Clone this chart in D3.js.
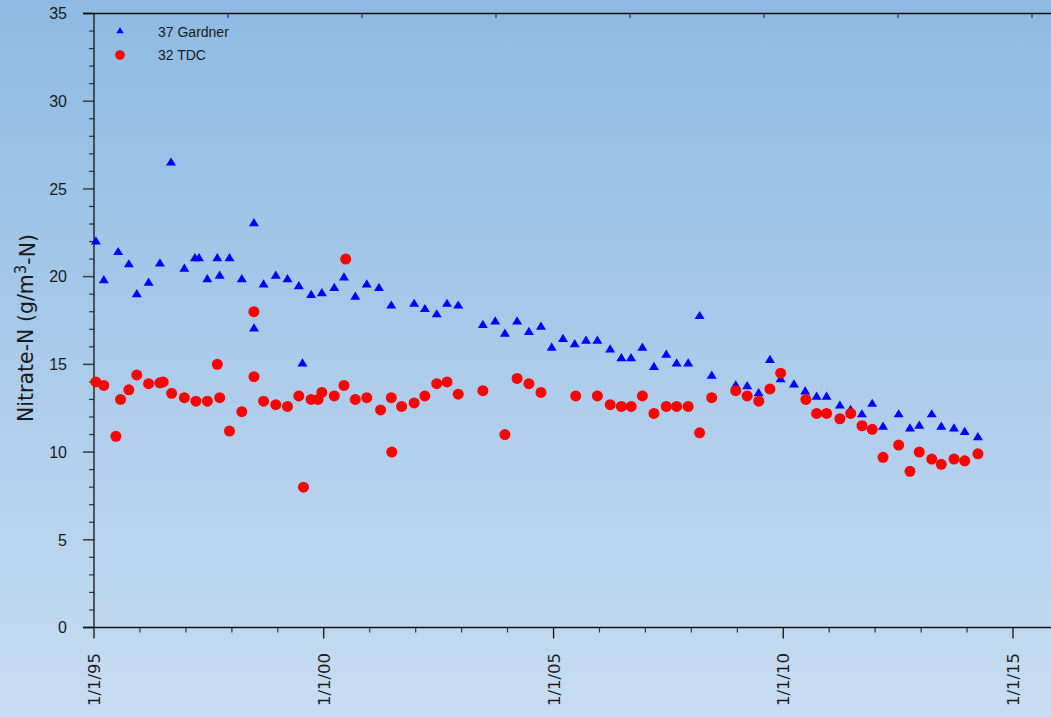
<!DOCTYPE html>
<html>
<head>
<meta charset="utf-8">
<script src="https://cdn.jsdelivr.net/npm/d3@7"></script>
<style>
  html, body { margin: 0; padding: 0; background: #c5dbf0; }
  svg { display: block; }
</style>
</head>
<body>
<svg id="chart" width="1051" height="717"></svg>
<script>
// ---------------- DATA ----------------
const seriesNames = ["37 Gardner", "32 TDC"];

const gardnerDates = [
  "1995-01-16","1995-03-20","1995-07-12","1995-10-05","1995-12-07","1996-03-10","1996-06-08","1996-09-04",
  "1996-12-19","1997-03-13","1997-04-15","1997-06-20","1997-09-07","1997-09-26","1997-12-13","1998-03-21",
  "1998-06-25","1998-06-26","1998-09-10","1998-12-16","1999-03-19","1999-06-17","1999-07-16","1999-09-23",
  "1999-12-17","2000-03-25","2000-06-10","2000-09-08","2000-12-08","2001-03-15","2001-06-21","2001-12-20",
  "2002-03-15","2002-06-17","2002-09-07","2002-12-05","2003-06-19","2003-09-25","2003-12-11","2004-03-17",
  "2004-06-19","2004-09-23","2004-12-17","2005-03-17","2005-06-18","2005-09-16","2005-12-15","2006-03-27",
  "2006-06-24","2006-09-09","2006-12-08","2007-03-10","2007-06-16","2007-09-06","2007-12-07","2008-03-07",
  "2008-06-11","2008-12-19","2009-03-20","2009-06-19","2009-09-17","2009-12-11","2010-03-27","2010-06-24",
  "2010-09-23","2010-12-11","2011-03-27","2011-06-20","2011-09-18","2011-12-09","2012-03-04","2012-07-06",
  "2012-10-04","2012-12-17","2013-03-26","2013-06-10","2013-09-19","2013-12-13","2014-03-28"
];
const gardnerValues = [
  22.0, 19.8, 21.4, 20.7, 19.0, 19.65, 20.75, 26.5,
  20.45, 21.05, 21.05, 19.85, 21.05, 20.05, 21.05, 19.85,
  23.05, 17.05, 19.55, 20.05, 19.85, 19.45, 15.05, 18.95,
  19.05, 19.35, 19.95, 18.85, 19.55, 19.35, 18.35, 18.45,
  18.15, 17.85, 18.45, 18.35, 17.25, 17.45, 16.75, 17.45,
  16.85, 17.15, 15.95, 16.45, 16.15, 16.35, 16.35, 15.85,
  15.35, 15.35, 15.95, 14.85, 15.55, 15.05, 15.05, 17.75,
  14.35, 13.8, 13.75, 13.35, 15.25, 14.15, 13.85, 13.45,
  13.15, 13.15, 12.65, 12.4, 12.15, 12.75, 11.45, 12.15,
  11.35, 11.5, 12.15, 11.45, 11.35, 11.15, 10.85
];

const tdcDates = [
  "1995-01-16","1995-03-20","1995-06-24","1995-07-31","1995-10-05","1995-12-07","1996-03-10","1996-06-08",
  "1996-07-04","1996-09-09","1996-12-19","1997-03-21","1997-06-20","1997-09-07","1997-09-26","1997-12-13",
  "1998-03-21","1998-06-25","1998-06-26","1998-09-10","1998-12-16","1999-03-19","1999-06-17","1999-07-24",
  "1999-09-23","1999-11-17","1999-12-17","2000-03-25","2000-06-10","2000-06-24","2000-09-08","2000-12-08",
  "2001-03-28","2001-06-21","2001-06-25","2001-09-11","2001-12-20","2002-03-15","2002-06-17","2002-09-07",
  "2002-12-05","2003-06-19","2003-12-11","2004-03-17","2004-06-19","2004-09-23","2005-06-26","2005-12-15",
  "2006-03-27","2006-06-24","2006-09-10","2006-12-08","2007-03-10","2007-06-16","2007-09-06","2007-12-07",
  "2008-03-07","2008-06-11","2008-12-19","2009-03-20","2009-06-20","2009-09-17","2009-12-11","2010-06-30",
  "2010-09-23","2010-12-11","2011-03-27","2011-06-21","2011-09-19","2011-12-09","2012-03-04","2012-07-06",
  "2012-10-04","2012-12-17","2013-03-26","2013-06-10","2013-09-19","2013-12-13","2014-03-28"
];
const tdcValues = [
  14.0, 13.8, 10.9, 13.0, 13.55, 14.4, 13.9, 13.95,
  14.0, 13.35, 13.1, 12.9, 12.9, 15.0, 13.1, 11.2,
  12.3, 18.0, 14.3, 12.9, 12.7, 12.6, 13.2, 8.0,
  13.0, 13.0, 13.4, 13.2, 13.8, 21.0, 13.0, 13.1,
  12.4, 13.1, 10.0, 12.6, 12.8, 13.2, 13.9, 14.0,
  13.3, 13.5, 11.0, 14.2, 13.9, 13.4, 13.2, 13.2,
  12.7, 12.6, 12.6, 13.2, 12.2, 12.6, 12.6, 12.6,
  11.1, 13.1, 13.5, 13.2, 12.9, 13.6, 14.5, 13.0,
  12.2, 12.2, 11.9, 12.2, 11.5, 11.3, 9.7, 10.4,
  8.9, 10.0, 9.6, 9.3, 9.6, 9.5, 9.9
];

const yMajorTicks = [0, 5, 10, 15, 20, 25, 30, 35];
const xTickLabels = ["1/1/95", "1/1/00", "1/1/05", "1/1/10", "1/1/15"];
const xMajorTickDates = ["1995-01-01", "2000-01-01", "2005-01-01", "2010-01-01", "2015-01-01"];
const topTickIndex = [1, 2, 3, 4, 5, 6, 7];
const yTitle = "Nitrate-N (g/m";
const yTitleSup = "3";
const yTitleEnd = "-N)";

// ---------------- CHART ----------------
(function () {
const W = 1051, H = 717;
const parse = d3.timeParse("%Y-%m-%d");
const svg = d3.select("#chart");

// background gradient
const defs = svg.append("defs");
const grad = defs.append("linearGradient").attr("id", "bg").attr("x1", 0).attr("y1", 0).attr("x2", 0).attr("y2", 1);
grad.append("stop").attr("offset", "0%").attr("stop-color", "#8ebae3");
grad.append("stop").attr("offset", "100%").attr("stop-color", "#c7ddf1");
svg.append("rect").attr("width", W).attr("height", H).attr("fill", "url(#bg)");

const mLeft = 94, mTop = 13.5, mBottom = 627.5, axisLeftExt = 83;

const x = d3.scaleTime()
  .domain([parse("1995-01-01"), parse("2015-01-01")])
  .range([mLeft, 1013]);
const y = d3.scaleLinear().domain([0, 35]).range([mBottom, mTop]);
const xTop = d3.scaleLinear().domain([0, 7]).range([mLeft, 1032]);

const axisColor = "#111";
const tickColor = "#333";

// Y axis ticks (major + minor)
const gY = svg.append("g");
const yMinor = d3.range(0, 36).filter(v => v % 5 !== 0);
gY.selectAll("line.minor").data(yMinor).join("line")
  .attr("class", "minor")
  .attr("x1", mLeft - 5).attr("x2", mLeft)
  .attr("y1", d => y(d)).attr("y2", d => y(d))
  .attr("stroke", tickColor).attr("stroke-width", 1.2);
gY.selectAll("line.major").data(yMajorTicks).join("line")
  .attr("class", "major")
  .attr("x1", mLeft - 11).attr("x2", mLeft)
  .attr("y1", d => y(d)).attr("y2", d => y(d))
  .attr("stroke", "#444").attr("stroke-width", 1.6);
gY.selectAll("text").data(yMajorTicks).join("text")
  .attr("x", 67).attr("y", d => y(d)).attr("dy", "0.36em")
  .attr("text-anchor", "end")
  .attr("font-family", "Liberation Sans, Arial, sans-serif")
  .attr("font-size", 16).attr("fill", "#1a1a1a")
  .text(d => d);

// X axis ticks
const gX = svg.append("g");
const yearTicks = d3.timeYear.range(parse("1995-01-01"), parse("2017-01-01"))
  .filter(d => x(d) <= W);
gX.selectAll("line.minor").data(yearTicks.filter(d => d.getFullYear() % 5 !== 0)).join("line")
  .attr("class", "minor")
  .attr("x1", d => x(d)).attr("x2", d => x(d))
  .attr("y1", mBottom).attr("y2", mBottom + 5)
  .attr("stroke", tickColor).attr("stroke-width", 1.2);
gX.selectAll("line.major").data(xMajorTickDates.map(parse)).join("line")
  .attr("class", "major")
  .attr("x1", d => x(d)).attr("x2", d => x(d))
  .attr("y1", mBottom).attr("y2", mBottom + 11)
  .attr("stroke", axisColor).attr("stroke-width", 1.3);
gX.selectAll("text").data(xMajorTickDates).join("text")
  .attr("transform", d => `translate(${x(parse(d))},653) rotate(-90)`)
  .attr("dy", "0.36em")
  .attr("text-anchor", "end")
  .attr("font-family", "DejaVu Sans, Verdana, sans-serif")
  .attr("font-size", 16.5).attr("fill", "#1a1a1a")
  .text((d, i) => xTickLabels[i]);

// top axis
svg.append("line").attr("x1", axisLeftExt).attr("x2", W).attr("y1", mTop).attr("y2", mTop)
  .attr("stroke", axisColor).attr("stroke-width", 1.3);
svg.selectAll("line.toptick").data(topTickIndex).join("line")
  .attr("class", "toptick")
  .attr("x1", d => xTop(d)).attr("x2", d => xTop(d))
  .attr("y1", mTop).attr("y2", mTop + 4.5)
  .attr("stroke", tickColor).attr("stroke-width", 1.2);

// axis lines
svg.append("line").attr("x1", axisLeftExt).attr("x2", W).attr("y1", mBottom).attr("y2", mBottom)
  .attr("stroke", axisColor).attr("stroke-width", 1.3);
svg.append("line").attr("x1", mLeft).attr("x2", mLeft).attr("y1", mTop).attr("y2", mBottom)
  .attr("stroke", axisColor).attr("stroke-width", 1.3);

// Y title
const title = svg.append("text")
  .attr("transform", "translate(33,328) rotate(-90)")
  .attr("text-anchor", "middle")
  .attr("font-family", "DejaVu Sans, Verdana, sans-serif")
  .attr("font-size", 20.5).attr("fill", "#1a1a1a");
title.append("tspan").text(yTitle);
title.append("tspan").attr("dy", "-0.45em").attr("font-size", 15).text(yTitleSup);
title.append("tspan").attr("dy", "0.45em").text(yTitleEnd);

// markers
const tri = s => `M0,${-5.2 * s}L${5 * s},${3 * s}L${-5 * s},${3 * s}Z`;

const gardner = gardnerDates.map((d, i) => ({ date: parse(d), value: gardnerValues[i] }));
const tdc = tdcDates.map((d, i) => ({ date: parse(d), value: tdcValues[i] }));

svg.append("g").selectAll("path").data(gardner).join("path")
  .attr("transform", d => `translate(${x(d.date)},${y(d.value)})`)
  .attr("d", tri(1))
  .attr("fill", "#0000ff");

svg.append("g").selectAll("circle").data(tdc).join("circle")
  .attr("cx", d => x(d.date)).attr("cy", d => y(d.value))
  .attr("r", 5.5)
  .attr("fill", "#ff0000");

// legend
const lg = svg.append("g").attr("font-family", "Liberation Sans, Arial, sans-serif").attr("font-size", 14).attr("fill", "#1a1a1a");
lg.append("path").attr("transform", "translate(120,31)").attr("d", tri(0.75)).attr("fill", "#0000ff");
lg.append("circle").attr("cx", 120).attr("cy", 55).attr("r", 4.8).attr("fill", "#ff0000");
lg.append("text").attr("x", 158).attr("y", 32).attr("dy", "0.36em").text(seriesNames[0]);
lg.append("text").attr("x", 158).attr("y", 55).attr("dy", "0.36em").text(seriesNames[1]);
})();
</script>
</body>
</html>
